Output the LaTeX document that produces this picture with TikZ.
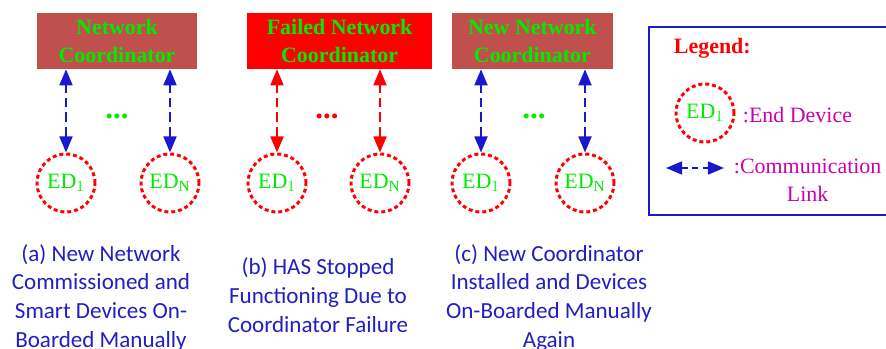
\documentclass[tikz,border=0pt]{standalone}
\usepackage{fontspec}
\setmainfont{Liberation Serif}
\newfontfamily\capfont{Carlito}
\usetikzlibrary{arrows.meta, positioning, shapes}
\definecolor{coordred}{RGB}{192,80,77}
\definecolor{txtgreen}{RGB}{0,235,0}
\definecolor{linkblue}{RGB}{24,24,204}
\definecolor{capblue}{RGB}{32,32,192}
\definecolor{legmag}{RGB}{204,0,170}

\begin{document}
\begin{tikzpicture}[
    coord/.style={rectangle, minimum height=1.4cm, inner sep=0pt, align=center, text=txtgreen, font=\fontsize{15.6}{20.5}\selectfont\bfseries},
    device/.style={circle, draw=red, line width=2.1pt, dash pattern=on 2.8pt off 2.1pt, minimum size=1.45cm, inner sep=0pt, text=txtgreen, font=\fontsize{15.6}{18}\selectfont},
    link/.style={<->, line width=1.4pt, dash pattern=on 7pt off 3.5pt, >={Triangle[length=11.4pt, width=9.2pt]}},
    dots/.style={text=txtgreen, font=\fontsize{22}{24}\selectfont\bfseries},
    caption/.style={align=center, anchor=base, text=capblue, font=\capfont\fontsize{16.4}{20.3}\selectfont},
    legtext/.style={text=legmag, font=\fontsize{15.6}{20.5}\selectfont}
]
\useasboundingbox (0,0) rectangle (22.15,-8.725);

% (a) new network
\node[coord, fill=coordred, minimum width=4cm] (coorda) at (2.925,-1.025) {Network\\Coordinator};
\node[device] (ed1a) at (1.65,-4.575) {ED$_1$};
\node[device] (edna) at (4.25,-4.575) {ED$_{\mathrm{N}}$};
\node[dots] (dotsa) at (2.925,-2.9) {...};
\draw[link, linkblue] (ed1a.north) -- (ed1a.north |- coorda.south);
\draw[link, linkblue] (edna.north) -- (edna.north |- coorda.south);
\node[caption] (capa) at (2.525,-8.675) {(a) New Network\\Commissioned and\\Smart Devices On-\\Boarded Manually};

% (b) failed coordinator
\node[coord, fill=red, minimum width=4.625cm] (coordb) at (8.49,-1.025) {Failed Network\\Coordinator};
\node[device] (ed1b) at (6.925,-4.575) {ED$_1$};
\node[device] (ednb) at (9.5,-4.575) {ED$_{\mathrm{N}}$};
\node[dots, text=red] (dotsb) at (8.175,-2.9) {...};
\draw[link, red] (ed1b.north) -- (ed1b.north |- coordb.south);
\draw[link, red] (ednb.north) -- (ednb.north |- coordb.south);
\node[caption] (capb) at (7.95,-8.3) {(b) HAS Stopped\\Functioning Due to\\Coordinator Failure};

% (c) new coordinator
\node[coord, fill=coordred, minimum width=4.025cm] (coordc) at (13.31,-1.025) {New Network\\Coordinator};
\node[device] (ed1c) at (12.025,-4.575) {ED$_1$};
\node[device] (ednc) at (14.625,-4.575) {ED$_{\mathrm{N}}$};
\node[dots] (dotsc) at (13.35,-2.9) {...};
\draw[link, linkblue] (ed1c.north) -- (ed1c.north |- coordc.south);
\draw[link, linkblue] (ednc.north) -- (ednc.north |- coordc.south);
\node[caption] (capc) at (13.725,-8.675) {(c) New Coordinator\\Installed and Devices\\On-Boarded Manually\\Again};

% legend
\draw[linkblue, line width=2.1pt] (16.225,-0.675) rectangle (22.6,-5.375);
\node[anchor=west, text=red, font=\fontsize{15.6}{18}\selectfont\bfseries] (legtitle) at (16.725,-1.2) {Legend:};
\node[device] (legdev) at (17.625,-2.825) {ED$_1$};
\node[legtext, anchor=base west] (legdevtxt) at (18.45,-3.075) {:End Device};
\coordinate (linkl) at (16.65,-4.2);
\coordinate (linkr) at (18.1,-4.2);
\draw[link, linkblue, dash pattern=on 4.5pt off 3pt] (linkl) -- (linkr);
\node[legtext, align=center, anchor=base west] (leglinktxt) at (18.225,-5.05) {:Communication\\Link};

\end{tikzpicture}
\end{document}
